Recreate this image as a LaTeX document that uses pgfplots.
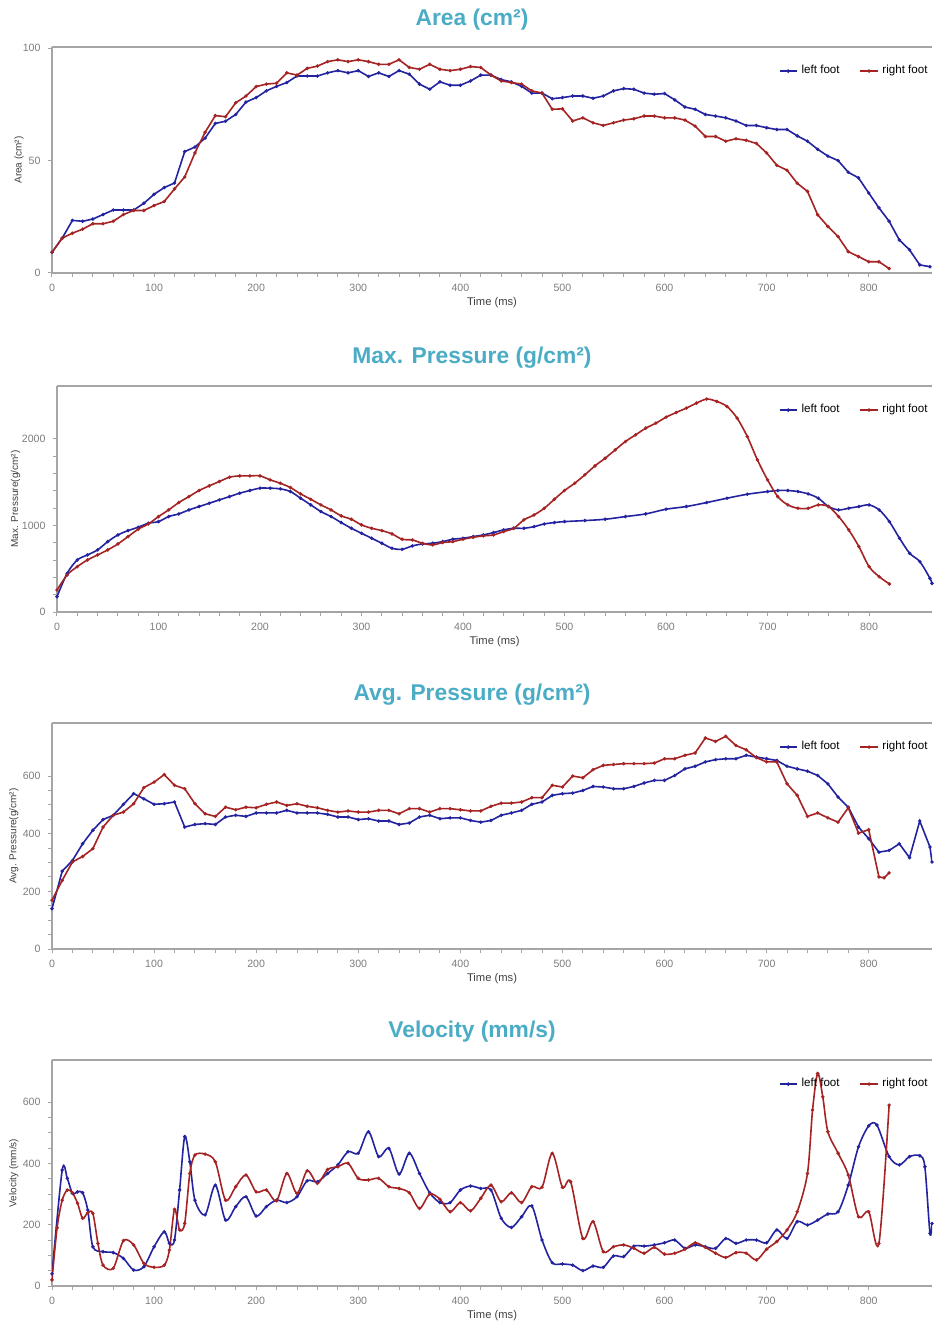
\documentclass[border=0pt]{standalone}
\usepackage{fontspec}
\setmainfont{Liberation Sans}
\usepackage{pgfplots}
\pgfplotsset{compat=1.18}

\definecolor{lfoot}{RGB}{35,35,160}
\definecolor{rfoot}{RGB}{165,35,35}
\definecolor{ttl}{RGB}{75,172,198}
\definecolor{axgray}{RGB}{165,165,165}
\definecolor{lblgray}{RGB}{125,125,125}

\pgfplotsset{
  footpanel/.style={
    scale only axis, width=440pt, height=113pt,
    xmin=0, xmax=862, ymin=0,
    axis x line*=bottom, axis y line*=left,
    axis line style={-, axgray, line width=0.6pt},
    xtick={0,100,...,800}, minor x tick num=4,
    tick align=outside, tick style={axgray, line width=0.5pt},
    major tick length=2.2pt, minor tick length=2pt,
    tick label style={font=\fontsize{5.3}{6}\selectfont, text=lblgray},
    /pgf/number format/assume math mode=true,
    /pgf/number format/1000 sep={},
    xlabel={Time (ms)},
    xlabel style={font=\fontsize{5.6}{6}\selectfont, text=black!75, yshift=4pt},
    ylabel style={font=\fontsize{5}{6}\selectfont, text=black!75},
    every axis plot/.append style={line width=0.8pt, mark=*, mark size=0.4pt},
    legend columns=2,
    legend style={at={(rel axis cs:1,1)}, anchor=north east, yshift=-5pt, xshift=3pt,
      draw=none, fill=none, font=\fontsize{5.8}{7}\selectfont,
      /tikz/every even column/.append style={column sep=8pt}},
    legend image code/.code={\draw[mark repeat=2,mark phase=2] plot coordinates {(0pt,0pt) (4.3pt,0pt) (8.6pt,0pt)};},
    after end axis/.code={\draw[axgray, line width=0.6pt] (rel axis cs:0,1) -- (rel axis cs:1,1);},
  }
}

\begin{document}
\begin{tikzpicture}

% ---- Area
\node[font=\bfseries\fontsize{11.4}{14}\selectfont, text=ttl] at (236pt,-10pt) {Area (cm²)};
\begin{axis}[footpanel, at={(26pt,-23.5pt)}, anchor=north west,
  ymax=100.5, ytick={0,50,100}, ylabel={Area (cm²)},
  ylabel style={at={(axis description cs:-0.024,0.5)}}]
\addplot[lfoot] coordinates {(0,9.2)(10,15.5)(20,23.4)(30,23)(40,24)(50,26)(60,28)(70,28)(80,28)(90,31)(100,35)(110,38)(120,40)(130,54)(140,56)(150,60)(160,66.5)(170,67.5)(180,70.5)(190,76)(200,78)(210,81)(220,83)(230,84.7)(240,87.6)(250,87.6)(260,87.6)(270,89)(280,90)(290,89)(300,90)(310,87.4)(320,89)(330,87.4)(340,90)(350,88.4)(360,84)(370,81.7)(380,85)(390,83.5)(400,83.5)(410,85.4)(420,88)(430,88)(440,86)(450,85)(460,83)(470,80)(480,80)(490,77.5)(500,78)(510,78.7)(520,78.7)(530,77.7)(540,78.7)(550,81)(560,82)(570,81.7)(580,80)(590,79.5)(600,79.8)(610,77)(620,73.8)(630,72.8)(640,70.5)(650,69.8)(660,69)(670,67.6)(680,65.6)(690,65.6)(700,64.6)(710,63.8)(720,63.8)(730,61)(740,58.6)(750,55)(760,52)(770,50)(780,44.8)(790,42.3)(800,35.6)(810,29)(820,23)(830,14.7)(840,10.3)(850,3.6)(860,2.8)};
\addplot[rfoot] coordinates {(0,9.2)(10,15.5)(20,17.7)(30,19.5)(40,21.9)(50,21.9)(60,23)(70,26)(80,27.8)(90,27.8)(100,30)(110,31.8)(120,37.4)(130,42.7)(140,53.4)(150,62.6)(160,70)(170,69.5)(180,75.7)(190,78.7)(200,82.9)(210,84)(220,84.4)(230,89)(240,88)(250,91)(260,92)(270,94)(280,94.8)(290,94)(300,94.8)(310,94)(320,92.8)(330,92.8)(340,94.8)(350,91.4)(360,90.6)(370,92.8)(380,90.6)(390,90)(400,90.6)(410,91.8)(420,91.4)(430,88)(440,85.4)(450,84.7)(460,84)(470,81)(480,80)(490,72.8)(500,73)(510,67.6)(520,69)(530,66.8)(540,65.6)(550,66.8)(560,68)(570,68.6)(580,69.8)(590,69.8)(600,69)(610,69)(620,68)(630,65.3)(640,60.7)(650,60.7)(660,58.6)(670,59.7)(680,59)(690,57.6)(700,53.4)(710,47.9)(720,45.7)(730,39.9)(740,36.3)(750,25.9)(760,20.7)(770,16.2)(780,9.5)(790,7.3)(800,5)(810,5)(820,2)};
\legend{left foot, right foot}
\end{axis}

% ---- Max. Pressure
\node[font=\bfseries\fontsize{11.4}{14}\selectfont, text=ttl] at (236pt,-179pt) {Max. Pressure (g/cm²)};
\begin{axis}[footpanel, at={(28.5pt,-193pt)}, anchor=north west, width=437.5pt,
  ymax=2610, ytick={0,1000,2000}, minor y tick num=4, ylabel={Max. Pressure(g/cm²)},
  ylabel style={at={(axis description cs:-0.034,0.5)}}]
\addplot[lfoot, smooth] coordinates {(0,177)(10,447)(20,601)(30,659)(40,717)(50,813)(60,890)(70,940)(80,979)(90,1025)(100,1044)(110,1102)(120,1133)(130,1179)(140,1218)(150,1256)(160,1295)(170,1333)(180,1372)(190,1403)(200,1430)(210,1430)(220,1422)(230,1391)(240,1314)(250,1237)(260,1160)(270,1102)(280,1033)(290,967)(300,909)(310,852)(320,794)(330,736)(340,724)(350,763)(360,786)(370,794)(380,813)(390,840)(400,852)(410,871)(420,890)(430,917)(440,948)(450,967)(460,967)(470,986)(480,1017)(490,1033)(500,1044)(520,1056)(540,1071)(560,1102)(580,1133)(600,1187)(620,1218)(640,1264)(660,1314)(680,1360)(700,1391)(710,1403)(720,1403)(730,1391)(740,1364)(750,1314)(760,1218)(770,1179)(780,1198)(790,1218)(800,1237)(810,1179)(820,1044)(830,852)(840,678)(850,582)(860,389)(862,331)};
\addplot[rfoot, smooth] coordinates {(0,254)(10,428)(20,524)(30,601)(40,659)(50,717)(60,786)(70,871)(80,956)(90,1017)(100,1102)(110,1179)(120,1264)(130,1333)(140,1403)(150,1457)(160,1507)(170,1557)(180,1572)(190,1572)(200,1572)(210,1526)(220,1487)(230,1437)(240,1364)(250,1302)(260,1237)(270,1179)(280,1110)(290,1071)(300,1006)(310,967)(320,940)(330,902)(340,840)(350,832)(360,794)(370,775)(380,802)(390,813)(400,840)(410,863)(420,879)(430,890)(440,929)(450,967)(460,1064)(470,1121)(480,1198)(490,1302)(500,1403)(510,1487)(520,1584)(530,1688)(540,1776)(550,1873)(560,1969)(570,2046)(580,2123)(590,2181)(600,2250)(610,2304)(620,2355)(630,2412)(640,2459)(650,2432)(660,2374)(670,2239)(680,2027)(690,1757)(700,1526)(710,1333)(720,1237)(730,1198)(740,1198)(750,1237)(760,1218)(770,1102)(780,948)(790,755)(800,524)(810,408)(820,324)};
\legend{left foot, right foot}
\end{axis}

% ---- Avg. Pressure
\node[font=\bfseries\fontsize{11.4}{14}\selectfont, text=ttl] at (236pt,-347.5pt) {Avg. Pressure (g/cm²)};
\begin{axis}[footpanel, at={(26pt,-361.5pt)}, anchor=north west,
  ymax=784, ytick={0,200,400,600}, minor y tick num=3, ylabel={Avg. Pressure(g/cm²)},
  ylabel style={at={(axis description cs:-0.030,0.5)}}]
\addplot[lfoot] coordinates {(0,140)(10,270)(20,307)(30,365)(40,412)(50,449)(60,464)(70,502)(80,539)(90,521)(100,502)(110,504)(120,510)(130,423)(140,432)(150,435)(160,432)(170,458)(180,464)(190,460)(200,472)(210,472)(220,472)(230,481)(240,472)(250,472)(260,472)(270,467)(280,458)(290,458)(300,449)(310,452)(320,444)(330,444)(340,432)(350,437)(360,458)(370,464)(380,452)(390,455)(400,455)(410,446)(420,440)(430,446)(440,464)(450,472)(460,481)(470,502)(480,510)(490,533)(500,539)(510,541)(520,550)(530,564)(540,562)(550,556)(560,556)(570,564)(580,576)(590,585)(600,585)(610,602)(620,625)(630,634)(640,649)(650,657)(660,660)(670,660)(680,672)(690,666)(700,660)(710,654)(720,634)(730,625)(740,617)(750,602)(760,573)(770,527)(780,492)(790,423)(800,383)(810,336)(820,342)(830,365)(840,317)(850,444)(860,354)(862,302)};
\addplot[rfoot] coordinates {(0,169)(10,238)(20,302)(30,321)(40,348)(50,423)(60,464)(70,475)(80,504)(90,560)(100,579)(110,605)(120,568)(130,556)(140,504)(150,469)(160,460)(170,492)(180,483)(190,492)(200,490)(210,502)(220,510)(230,498)(240,504)(250,495)(260,490)(270,481)(280,475)(290,479)(300,475)(310,475)(320,481)(330,481)(340,469)(350,487)(360,487)(370,475)(380,487)(390,487)(400,483)(410,479)(420,479)(430,495)(440,506)(450,506)(460,510)(470,525)(480,525)(490,568)(500,562)(510,600)(520,594)(530,622)(540,637)(550,640)(560,643)(570,643)(580,643)(590,645)(600,660)(610,660)(620,672)(630,680)(640,732)(650,720)(660,738)(670,706)(680,691)(690,664)(700,649)(710,649)(720,573)(730,533)(740,460)(750,472)(760,455)(770,440)(780,490)(790,402)(800,414)(810,250)(815,247)(820,264)};
\legend{left foot, right foot}
\end{axis}

% ---- Velocity
\node[font=\bfseries\fontsize{11.4}{14}\selectfont, text=ttl] at (236pt,-516pt) {Velocity (mm/s)};
\begin{axis}[footpanel, at={(26pt,-530pt)}, anchor=north west,
  ymax=737, ytick={0,200,400,600}, minor y tick num=3, ylabel={Velocity (mm/s)},
  ylabel style={at={(axis description cs:-0.030,0.5)}}]
\addplot[lfoot, smooth, tension=0.5] coordinates {(0,40)(10,378)(15,351)(20,302)(25,307)(30,304)(35,248)(40,128)(50,112)(60,109)(70,90)(80,52)(90,63)(100,128)(110,177)(115,139)(120,150)(125,313)(130,487)(135,405)(140,280)(150,232)(160,329)(170,215)(180,259)(190,291)(200,228)(210,259)(220,280)(230,272)(240,291)(250,343)(260,340)(270,367)(280,395)(290,438)(300,433)(310,503)(320,422)(330,449)(340,365)(350,433)(360,367)(370,304)(380,272)(390,272)(400,313)(410,326)(420,318)(430,313)(440,221)(450,191)(460,226)(470,261)(480,150)(490,76)(500,72)(510,68)(520,50)(530,65)(540,61)(550,98)(560,96)(570,130)(580,130)(590,134)(600,141)(610,150)(620,123)(630,134)(640,128)(650,123)(660,155)(670,139)(680,150)(690,150)(700,141)(710,183)(720,155)(730,210)(740,199)(750,215)(760,235)(770,242)(780,329)(790,454)(800,522)(808,525)(820,422)(830,395)(840,422)(850,425)(855,389)(860,172)(862,204)};
\addplot[rfoot, smooth, tension=0.5] coordinates {(0,20)(5,190)(10,280)(15,313)(20,304)(25,270)(30,221)(35,239)(40,237)(45,139)(50,68)(60,58)(70,148)(80,134)(90,74)(100,61)(110,68)(115,117)(120,250)(125,183)(130,204)(135,367)(140,427)(150,430)(160,405)(170,280)(180,324)(190,362)(200,307)(210,313)(220,278)(230,367)(240,302)(250,376)(260,335)(270,380)(280,389)(290,400)(300,351)(310,346)(320,351)(330,324)(340,318)(350,304)(360,253)(370,300)(380,283)(390,242)(400,272)(410,245)(420,286)(430,329)(440,275)(450,304)(460,272)(470,324)(480,322)(490,433)(500,322)(508,340)(520,155)(530,210)(540,112)(550,128)(560,134)(570,123)(580,107)(590,126)(600,104)(610,107)(620,120)(630,141)(640,126)(650,107)(660,93)(670,109)(680,107)(690,85)(700,120)(710,145)(720,183)(730,242)(740,367)(745,574)(750,693)(755,617)(760,503)(770,433)(780,362)(790,226)(800,242)(810,139)(820,590)};
\legend{left foot, right foot}
\end{axis}

\pgfresetboundingbox
\path[use as bounding box] (0,0) rectangle (467pt,-663pt);
\end{tikzpicture}
\end{document}
